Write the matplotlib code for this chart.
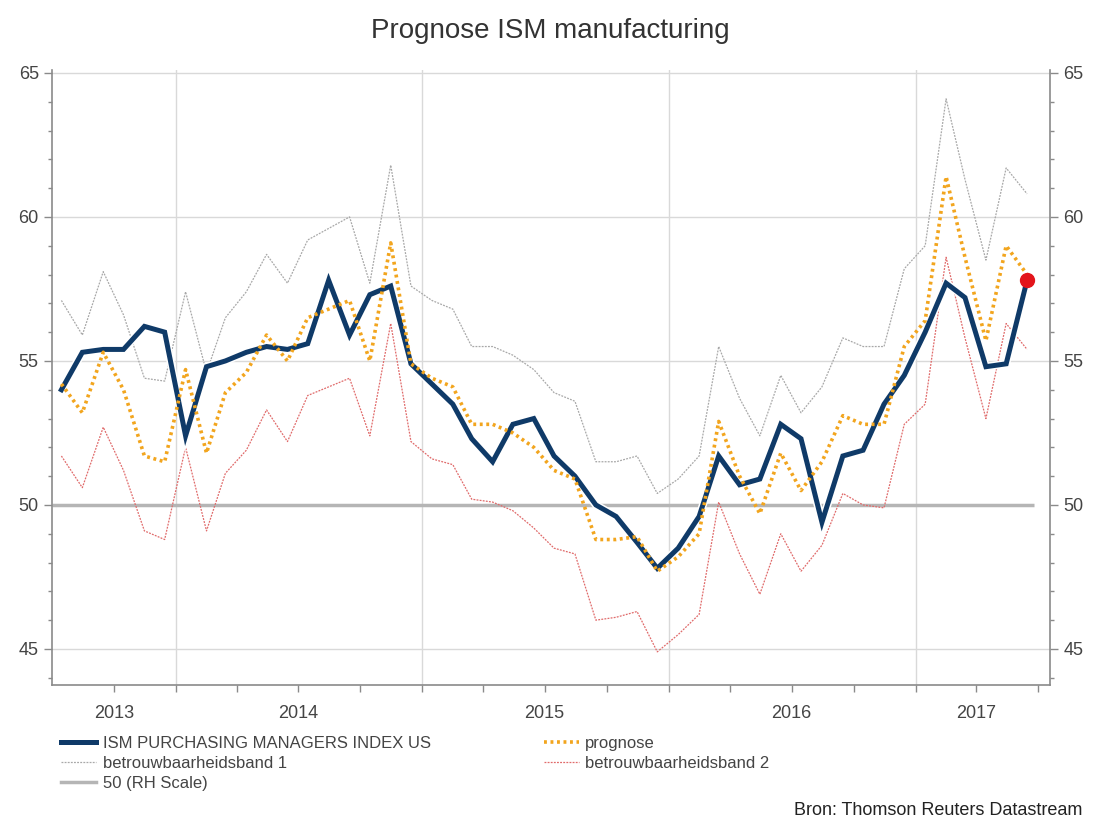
import numpy as np
import pandas as pd
import matplotlib
matplotlib.use('Agg')
import matplotlib.pyplot as plt
import matplotlib.dates as mdates
from matplotlib.lines import Line2D

plt.rcParams['font.family'] = ['Liberation Sans', 'DejaVu Sans']

# monthly values, Jul 2013 .. Jun 2017
months = pd.date_range('2013-07-01', '2017-06-01', freq='MS') + pd.Timedelta(days=14)

ism = [54.0, 55.3, 55.4, 55.4, 56.2, 56.0, 52.4, 54.8, 55.0, 55.3, 55.5, 55.4,
       55.6, 57.8, 55.9, 57.3, 57.6, 54.9, 54.2, 53.5, 52.3, 51.5, 52.8, 53.0,
       51.7, 51.0, 50.0, 49.6, 48.7, 47.8, 48.5, 49.6, 51.7, 50.7, 50.9, 52.8,
       52.3, 49.4, 51.7, 51.9, 53.5, 54.5, 56.0, 57.7, 57.2, 54.8, 54.9, 57.8]

prognose = [54.2, 53.2, 55.3, 54.0, 51.7, 51.5, 54.7, 51.8, 53.9, 54.6, 55.9, 55.0,
            56.5, 56.8, 57.1, 55.0, 59.1, 54.9, 54.4, 54.1, 52.8, 52.8, 52.5, 52.0,
            51.2, 50.9, 48.8, 48.8, 48.9, 47.7, 48.2, 49.0, 52.9, 51.0, 49.7, 51.8,
            50.5, 51.5, 53.1, 52.8, 52.8, 55.5, 56.4, 61.4, 58.6, 55.7, 59.0, 58.0]

band1 = [57.1, 55.9, 58.1, 56.6, 54.4, 54.3, 57.4, 54.6, 56.5, 57.4, 58.7, 57.7,
         59.2, 59.6, 60.0, 57.7, 61.8, 57.6, 57.1, 56.8, 55.5, 55.5, 55.2, 54.7,
         53.9, 53.6, 51.5, 51.5, 51.7, 50.4, 50.9, 51.7, 55.5, 53.7, 52.4, 54.5,
         53.2, 54.1, 55.8, 55.5, 55.5, 58.2, 59.0, 64.1, 61.3, 58.5, 61.7, 60.8]

band2 = [51.7, 50.6, 52.7, 51.2, 49.1, 48.8, 52.0, 49.1, 51.1, 51.9, 53.3, 52.2,
         53.8, 54.1, 54.4, 52.4, 56.3, 52.2, 51.6, 51.4, 50.2, 50.1, 49.8, 49.2,
         48.5, 48.3, 46.0, 46.1, 46.3, 44.9, 45.5, 46.2, 50.1, 48.3, 46.9, 49.0,
         47.7, 48.6, 50.4, 50.0, 49.9, 52.8, 53.5, 58.6, 55.8, 53.0, 56.3, 55.4]

level_50 = 50
year_labels = ['2013', '2014', '2015', '2016', '2017']
year_label_pos = ['2013-10-01', '2014-07-01', '2015-07-01', '2016-07-01', '2017-04-01']

navy = '#0f3a68'
orange = '#f2a51e'
grey_band = '#a8a8a8'
red_band = '#e06a6a'
grid_c = '#d9d9d9'
text_c = '#444444'

fig = plt.figure(figsize=(10.94, 8.22), dpi=100)
ax = fig.add_axes([0.0475, 0.1667, 0.9123, 0.7481])

x0 = pd.Timestamp('2013-07-01')
x1 = pd.Timestamp('2017-07-19')
ax.set_xlim(x0, x1)
ax.set_ylim(43.75, 65.1)

# grid
for v in [45, 55, 60, 65]:
    ax.axhline(v, color=grid_c, lw=1.0, zorder=1)
for yr in range(2014, 2018):
    ax.axvline(pd.Timestamp(f'{yr}-01-01'), color=grid_c, lw=1.0, zorder=1)

ax.hlines(level_50, x0, months[-1] + pd.Timedelta(days=10), color='#b5b5b5', lw=2.5, zorder=2)

ax.plot(months, band1, color=grey_band, lw=0.9, ls=(0, (1.5, 1)), zorder=3)
ax.plot(months, band2, color=red_band, lw=0.9, ls=(0, (1.5, 1)), zorder=3)
ax.plot(months, ism, color='white', lw=5.8, zorder=4, solid_joinstyle='miter')
ax.plot(months, ism, color=navy, lw=3.6, zorder=5, solid_joinstyle='miter')
ax.plot(months, prognose, color=orange, lw=2.6, ls=(0, (0.8, 1.0)), zorder=6)
ax.plot(months[-1], ism[-1], 'o', color='#e3141b', ms=10, zorder=7)

# axes frame
for s in ['left', 'right', 'bottom']:
    ax.spines[s].set_color('#8a8a8a')
    ax.spines[s].set_linewidth(1.2)
ax.spines['top'].set_visible(False)

ax.set_yticks([45, 50, 55, 60, 65])
ax.set_yticks(np.arange(44, 66, 1), minor=True)
ax.tick_params(axis='y', which='both', left=True, right=True, labelleft=True,
               labelright=True, direction='out', colors='#8a8a8a', labelcolor=text_c,
               labelsize=13)
ax.tick_params(axis='y', which='major', length=6, width=1)
ax.tick_params(axis='y', which='minor', length=3, width=1)

quarters = pd.date_range('2013-10-01', '2017-07-01', freq='QS')
ax.set_xticks(quarters)
ax.set_xticklabels(['' for q in quarters])
ax.set_xticks(pd.date_range('2014-01-01', '2017-01-01', freq='YS'), minor=True)
ax.tick_params(axis='x', which='major', direction='out', length=5, width=1,
               colors='#8a8a8a')
ax.tick_params(axis='x', which='minor', direction='out', length=9, width=1,
               colors='#8a8a8a')
for lab, pos in zip(year_labels, year_label_pos):
    ax.text(mdates.date2num(pd.Timestamp(pos)), -0.033, lab, transform=ax.get_xaxis_transform(),
            ha='center', va='top', fontsize=13, color=text_c)

fig.text(0.503, 0.962, 'Prognose ISM manufacturing', ha='center', va='center',
         fontsize=20, color='#333333')

# legend, two columns
h_ism = Line2D([], [], color=navy, lw=3.6)
h_b1 = Line2D([], [], color=grey_band, lw=0.9, ls=(0, (1.5, 1)))
h_50 = Line2D([], [], color='#b5b5b5', lw=2.5)
h_pr = Line2D([], [], color=orange, lw=2.6, ls=(0, (0.8, 1.0)))
h_b2 = Line2D([], [], color=red_band, lw=0.9, ls=(0, (1.5, 1)))

leg_kw = dict(frameon=False, loc='upper left', handlelength=2.1, handletextpad=0.4,
              labelspacing=0.3, borderaxespad=0, borderpad=0,
              prop={'size': 12}, labelcolor=text_c)
leg1 = fig.legend([h_ism, h_b1, h_50],
                  ['ISM PURCHASING MANAGERS INDEX US', 'betrouwbaarheidsband 1', '50 (RH Scale)'],
                  bbox_to_anchor=(0.056, 0.105), **leg_kw)
leg2 = fig.legend([h_pr, h_b2], ['prognose', 'betrouwbaarheidsband 2'],
                  bbox_to_anchor=(0.497, 0.105), **leg_kw)

fig.text(0.989, 0.004, 'Bron: Thomson Reuters Datastream', ha='right', va='bottom',
         fontsize=13, color='#222222')

fig.savefig('out.png', dpi=100, facecolor='white')
